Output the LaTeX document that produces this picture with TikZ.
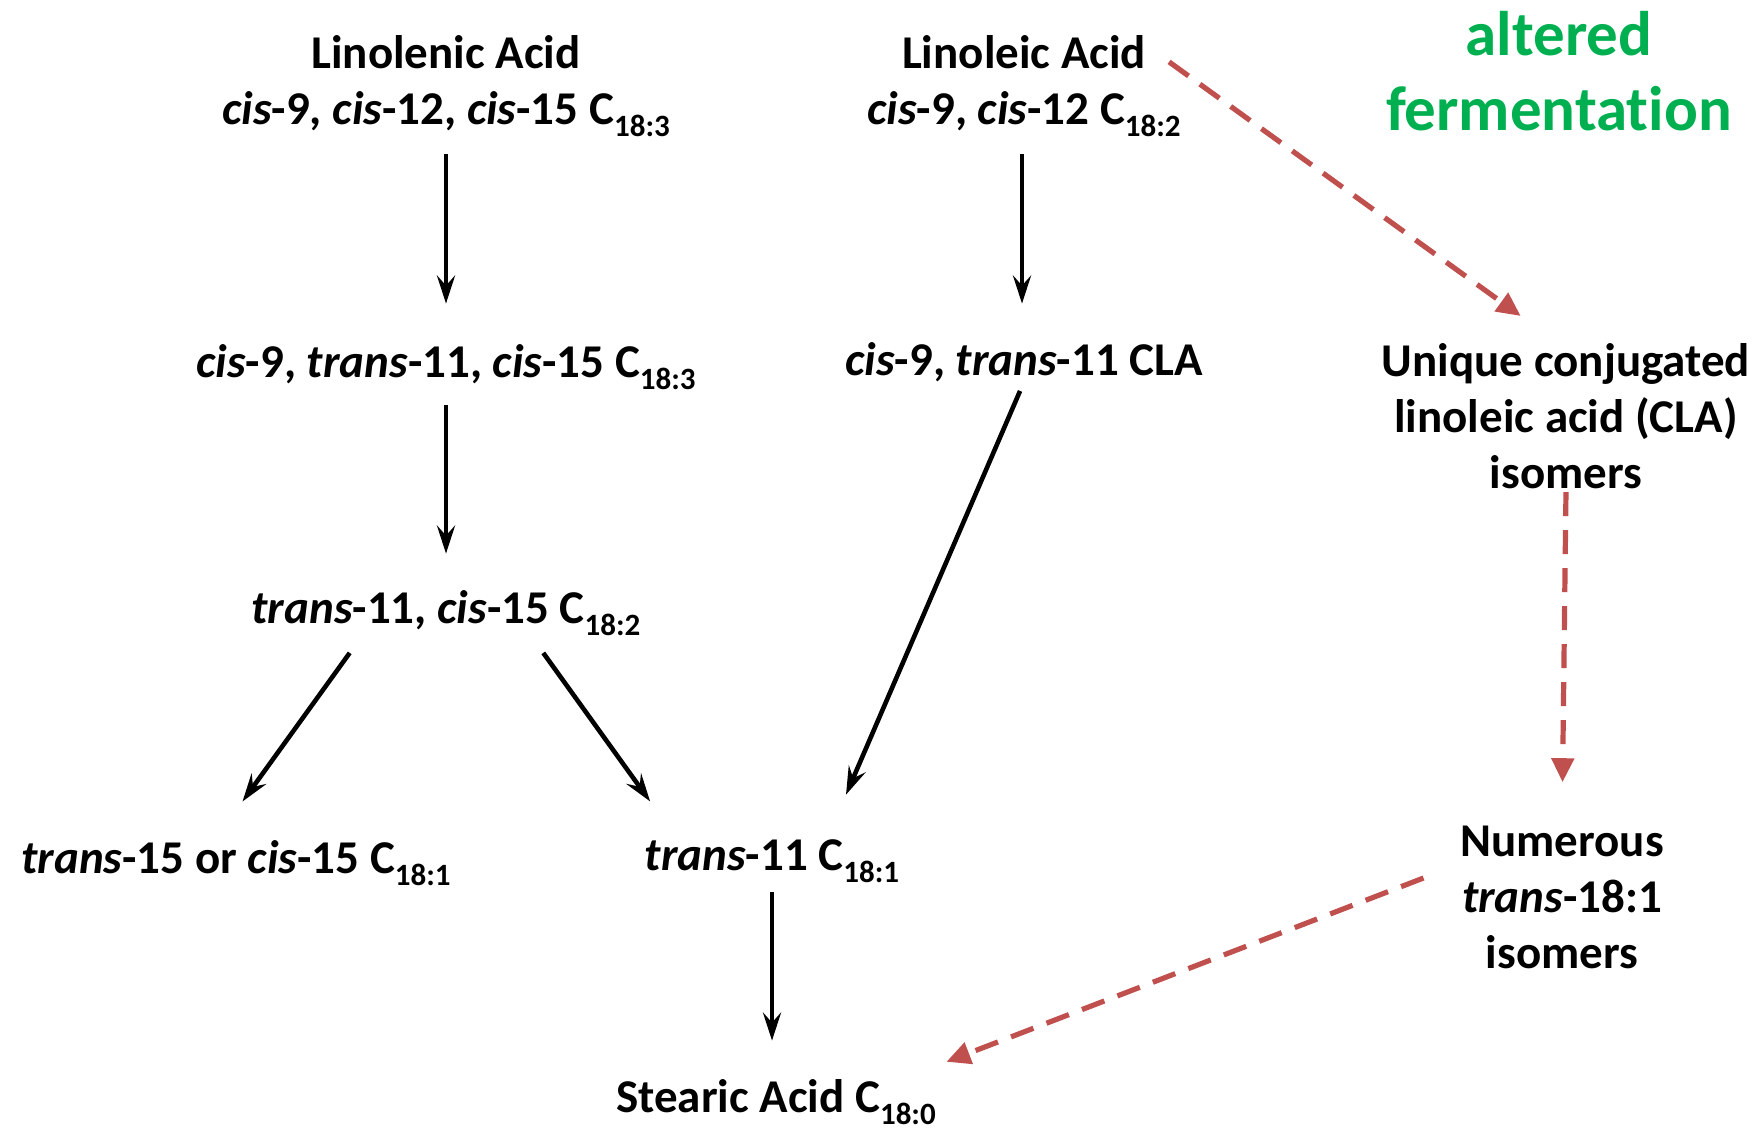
\documentclass[tikz,border=0pt]{standalone}
\usepackage{fontspec}
\setmainfont{Carlito}[Ligatures=NoCommon]
\usetikzlibrary{positioning,arrows.meta}

\definecolor{dashred}{RGB}{192,80,77}
\definecolor{fermgreen}{RGB}{0,176,80}
\newcommand{\sbs}[1]{\raisebox{-0.26em}{\fontsize{15.5}{16}\selectfont #1}}

\begin{document}
\begin{tikzpicture}[
  x=0.5pt, y=0.5pt,
  font=\fontsize{23.5}{28}\selectfont\bfseries,
  acid/.style={align=center, inner sep=0pt},
  conv/.style={-{Stealth[length=14pt,width=9pt,inset=5pt]}, line width=2.3pt},
  altpath/.style={dashred, line width=2.6pt, dash pattern=on 12pt off 7pt, -{Triangle[length=12pt,width=11pt]}}
]
\useasboundingbox (0,0) rectangle (1764,1132);

% linolenic branch
\node[acid] (lnn) at (446,1046) {Linolenic Acid\\\textit{cis}-9, \textit{cis}-12, \textit{cis}-15 C\sbs{18:3}};
\node[acid, anchor=base] (ctc) at (446,755) {\textit{cis}-9, \textit{trans}-11, \textit{cis}-15 C\sbs{18:3}};
\node[acid, anchor=base] (tcs) at (446,509) {\textit{trans}-11, \textit{cis}-15 C\sbs{18:2}};
\node[acid, anchor=base] (tos) at (236,259) {\textit{trans}-15 or \textit{cis}-15 C\sbs{18:1}};

% linoleic branch
\node[acid] (lno) at (1024,1046) {Linoleic Acid\\\textit{cis}-9, \textit{cis}-12 C\sbs{18:2}};
\node[acid, anchor=base] (cla) at (1024,757) {\textit{cis}-9, \textit{trans}-11 CLA};
\node[acid, anchor=base] (t11) at (772,262) {\textit{trans}-11 C\sbs{18:1}};
\node[acid, anchor=base] (ste) at (776,20) {Stearic Acid C\sbs{18:0}};

% altered fermentation
\node[acid, font=\fontsize{31.5}{37.5}\selectfont\bfseries, text=fermgreen] (ferm) at (1559,1061) {altered\\fermentation};
\node[acid] (uci) at (1566,716) {Unique conjugated\\linoleic acid (CLA)\\isomers};
\node[acid] (num) at (1562,235) {Numerous\\\textit{trans}-18:1\\isomers};

\draw[conv, shorten <=8.5pt, shorten >=20pt] (lnn.south) -- (ctc.north);
\draw[conv, shorten <=7.5pt, shorten >=18pt] (ctc.south) -- (tcs.north);
\draw[conv, shorten <=10.5pt, shorten >=23.5pt] ([xshift=-42pt]tcs.south) -- ([xshift=-10.5pt]tos.north);
\draw[conv, shorten <=10.5pt, shorten >=23pt] ([xshift=42.5pt]tcs.south) -- ([xshift=-47.5pt]t11.north);
\draw[conv, shorten <=8.5pt, shorten >=19pt] ([xshift=-1pt]lno.south) -- ([xshift=-1pt]cla.north);
\draw[conv, shorten <=5pt, shorten >=24pt] (cla.south) -- ([xshift=27.5pt]t11.north);
\draw[conv, shorten <=4.5pt, shorten >=19pt] (t11.south) -- (t11.south |- ste.north);

\draw[altpath, shorten >=23pt] ([xshift=-6pt,yshift=-13.5pt]lno.north east) -- ([xshift=-4pt]uci.north);
\draw[altpath, shorten <=1.5pt, shorten >=21.5pt] (uci.south) -- (num.north);
\draw[altpath, shorten <=19.5pt, shorten >=5.5pt] ([yshift=16.5pt]num.west) -- ([yshift=18pt]ste.east);
\end{tikzpicture}
\end{document}
